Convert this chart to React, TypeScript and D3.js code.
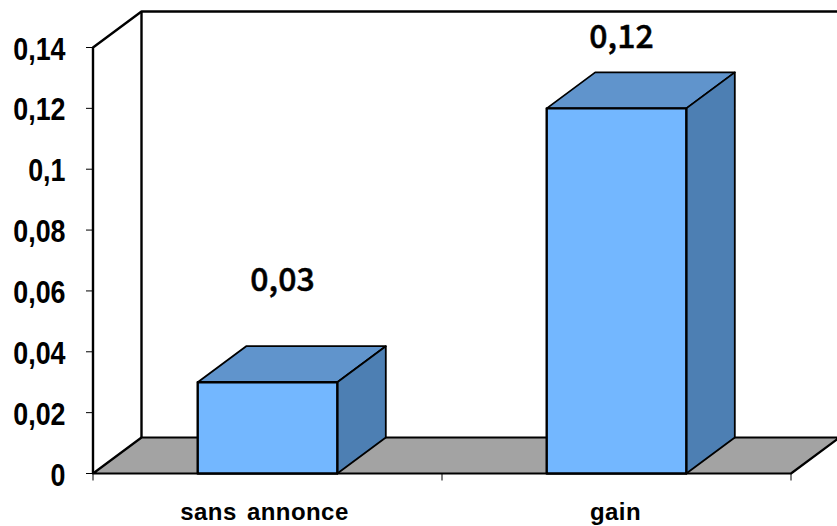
import React from "react";
import * as d3 from "d3";

// Values and labels of the chart
const categories = ["sans annonce", "gain"];
const values = [0.03, 0.12];
const valueLabels = ["0,03", "0,12"];
const yTicks = [0, 0.02, 0.04, 0.06, 0.08, 0.1, 0.12, 0.14];
const yTickLabels = ["0", "0,02", "0,04", "0,06", "0,08", "0,1", "0,12", "0,14"];

const WIDTH = 837;
const HEIGHT = 526;
const DEPTH_X = 48.5;
const DEPTH_Y = 36;
const GOTHIC = "'Noto Sans CJK JP', sans-serif";
const ARIAL = "'Liberation Sans', Arial, sans-serif";

// Height of each value label above its bar's front edge
const labelLift = [91, 60];
// Sideways nudge of each value label from the bar centre
const labelNudge = [15, 5];
// Sideways nudge of each category label from the bar centre
const categoryNudge = [-3, -1];

const y = d3.scaleLinear().domain([0, 0.14]).range([473.5, 47.5]);
const x = d3.scaleBand<string>().domain(categories).range([93, 791]).paddingInner(0.6).paddingOuter(0.3);

const poly = (pts: [number, number][]) => d3.line()(pts) + "Z";

export default function App() {
  const [x0, x1] = x.range();
  const y0 = y(0);
  const yTop = y(0.14);
  const edge = { stroke: "#000", strokeLinejoin: "round" as const };
  return (
    <svg
      width={WIDTH}
      height={HEIGHT}
      viewBox={`0 0 ${WIDTH} ${HEIGHT}`}
      style={{ position: "absolute", left: 0, top: 0, background: "#fff" }}
    >
      {/* floor of the 3D frame */}
      <path
        d={poly([
          [x0, y0],
          [x1, y0],
          [x1 + DEPTH_X, y0 - DEPTH_Y],
          [x0 + DEPTH_X, y0 - DEPTH_Y],
        ])}
        fill="#a3a3a3"
        {...edge}
        strokeWidth={2.2}
      />
      {/* side wall and back wall outlines */}
      <path
        d={d3.line()([
          [x0, y0],
          [x0, yTop],
          [x0 + DEPTH_X, yTop - DEPTH_Y],
          [x1 + DEPTH_X, yTop - DEPTH_Y],
        ]) as string}
        fill="none"
        {...edge}
        strokeWidth={2.4}
      />
      <line x1={x0 + DEPTH_X} x2={x0 + DEPTH_X} y1={yTop - DEPTH_Y} y2={y0 - DEPTH_Y} {...edge} strokeWidth={2.4} />

      {/* value axis ticks and labels */}
      {yTicks.map((t, i) => (
        <g key={t}>
          <line x1={x0 - 7} x2={x0} y1={y(t)} y2={y(t)} stroke="#000" strokeWidth={1} />
          <text
            transform={`translate(65.5,${y(t) + 12}) scale(0.88,1)`}
            textAnchor="end"
            fontFamily={ARIAL}
            fontWeight={700}
            fontSize={30.5}
            fill="#000"
          >
            {yTickLabels[i]}
          </text>
        </g>
      ))}

      {/* category axis ticks */}
      {[x0, (x0 + x1) / 2, x1].map((v) => (
        <line key={v} x1={v} x2={v} y1={y0} y2={y0 + 7} stroke="#000" strokeWidth={1} />
      ))}

      {/* bars */}
      {categories.map((c, i) => {
        const l = x(c) as number;
        const r = l + x.bandwidth();
        const t = y(values[i]);
        return (
          <g key={c}>
            <path
              d={poly([
                [l, t],
                [l + DEPTH_X, t - DEPTH_Y],
                [r + DEPTH_X, t - DEPTH_Y],
                [r, t],
              ])}
              fill="#6094cc"
              {...edge}
              strokeWidth={1.8}
            />
            <path
              d={poly([
                [r, t],
                [r + DEPTH_X, t - DEPTH_Y],
                [r + DEPTH_X, y0 - DEPTH_Y],
                [r, y0],
              ])}
              fill="#4d7fb3"
              {...edge}
              strokeWidth={1.8}
            />
            <rect x={l} y={t} width={r - l} height={y0 - t} fill="#73b7ff" {...edge} strokeWidth={2.4} />
            <text
              x={l + x.bandwidth() / 2 + labelNudge[i]}
              y={t - labelLift[i]}
              textAnchor="middle"
              fontFamily={GOTHIC}
              fontWeight={500}
              fontSize={32}
              stroke="#000"
              strokeWidth={0.5}
              fill="#000"
            >
              {valueLabels[i]}
            </text>
            <text
              x={l + x.bandwidth() / 2 + categoryNudge[i]}
              y={520}
              textAnchor="middle"
              fontFamily={ARIAL}
              fontWeight={700}
              fontSize={24}
              wordSpacing={3}
              letterSpacing={0.45}
              fill="#000"
            >
              {c}
            </text>
          </g>
        );
      })}
    </svg>
  );
}
